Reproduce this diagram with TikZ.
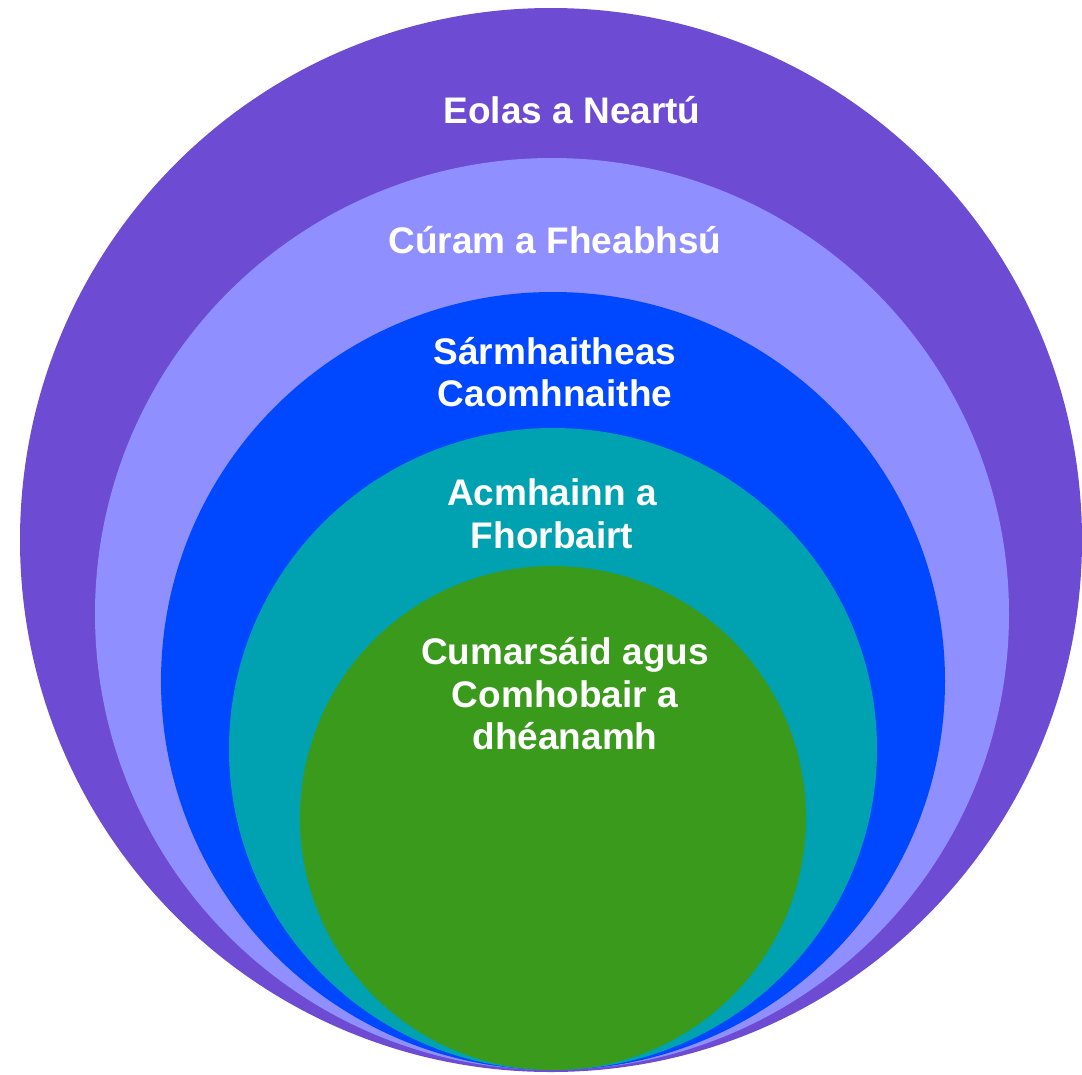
\documentclass[tikz,border=0pt]{standalone}
\usepackage{fontspec}
\setmainfont{Liberation Sans}
\definecolor{cA}{RGB}{109,75,211}
\definecolor{cB}{RGB}{143,143,255}
\definecolor{cC}{RGB}{0,72,255}
\definecolor{cD}{RGB}{0,162,178}
\definecolor{cE}{RGB}{58,154,28}
\tikzset{lbl/.style={text=white, font=\bfseries\fontsize{37}{42.5}\selectfont, align=center, inner sep=0pt}}
\begin{document}
\begin{tikzpicture}[x=1pt,y=-1pt]
\useasboundingbox (0,0) rectangle (1082,1074);
\fill[cA] (551,540) ellipse [x radius=531, y radius=532];
\fill[cB] (552,614) ellipse [x radius=457, y radius=456];
\fill[cC] (553,681) ellipse [x radius=392, y radius=389];
\fill[cD] (553,749) ellipse [x radius=324, y radius=321];
\fill[cE] (553,818) ellipse [x radius=253, y radius=252];
\node[lbl] (t1) at (572,110) {Eolas a Neartú};
\node[lbl] (t2) at (555,240) {Cúram a Fheabhsú};
\node[lbl] (t3) at (555,372) {Sármhaitheas\\Caomhnaithe};
\node[lbl] (t4) at (552,514) {Acmhainn a\\Fhorbairt};
\node[lbl] (t5) at (565,694) {Cumarsáid agus\\Comhobair a\\dhéanamh};
\end{tikzpicture}
\end{document}
